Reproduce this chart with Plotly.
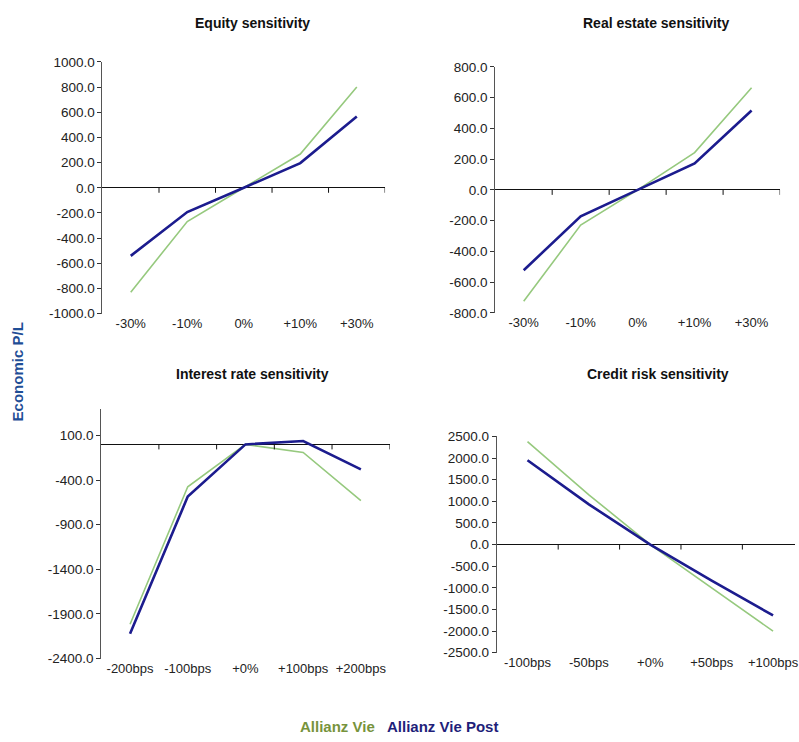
import plotly.graph_objects as go

# Scenario labels
pct_cats = ["-30%", "-10%", "0%", "+10%", "+30%"]
rate_cats = ["-200bps", "-100bps", "+0%", "+100bps", "+200bps"]
credit_cats = ["-100bps", "-50bps", "+0%", "+50bps", "+100bps"]

# Economic P/L per scenario
equity_vie = [-829, -268, 0, 268, 800]
equity_post = [-541, -193, 0, 196, 567]
realestate_vie = [-724, -229, 0, 242, 664]
realestate_post = [-522, -172, 0, 172, 516]
rate_vie = [-2016, -475, 0, -90, -629]
rate_post = [-2123, -585, 0, 38, -280]
credit_vie = [2379, 1150, 0, -1000, -2003]
credit_post = [1949, 929, 0, -832, -1640]

# Y-axis tick values
equity_ticks = [-1000, -800, -600, -400, -200, 0, 200, 400, 600, 800, 1000]
realestate_ticks = [-800, -600, -400, -200, 0, 200, 400, 600, 800]
rate_ticks = [-2400, -1900, -1400, -900, -400, 100]
credit_ticks = [-2500, -2000, -1500, -1000, -500, 0, 500, 1000, 1500, 2000, 2500]

series_names = ["Allianz Vie", "Allianz Vie Post"]
GREEN = "#96C97E"
NAVY = "#1C1C8E"
LEGEND_GREEN = "#77933C"
LEGEND_NAVY = "#1F1F7A"
FONT = "Liberation Sans, Arial"

W, H = 799, 742


def px_x(a, b):
    return [a / W, b / W]


def px_y(top, bottom):
    return [1 - bottom / H, 1 - top / H]


panels = [
    dict(title="Equity sensitivity", cats=pct_cats, vie=equity_vie, post=equity_post,
         ticks=equity_ticks, yrange=[-1000, 1000], xdom=px_x(103, 387), ydom=px_y(56, 313),
         xrange=[-0.5, 4.5], title_xy=(254, 16)),
    dict(title="Real estate sensitivity", cats=pct_cats, vie=realestate_vie, post=realestate_post,
         ticks=realestate_ticks, yrange=[-800, 800], xdom=px_x(497.7, 784), ydom=px_y(61, 312.3),
         xrange=[-0.5, 4.5], title_xy=(660, 16)),
    dict(title="Interest rate sensitivity", cats=rate_cats, vie=rate_vie, post=rate_post,
         ticks=rate_ticks, yrange=[-2400, 400], xdom=px_x(101.7, 391.7), ydom=px_y(410, 665),
         xrange=[-0.5, 4.5], title_xy=(254, 375)),
    dict(title="Credit risk sensitivity", cats=credit_cats, vie=credit_vie, post=credit_post,
         ticks=credit_ticks, yrange=[-2500, 2500], xdom=px_x(499.3, 799), ydom=px_y(438.3, 659),
         xrange=[-0.5, -0.5 + 5 * (799 - 499.3) / 308.5], title_xy=(661, 375)),
]

fig = go.Figure()
annotations = []
shapes = []
layout_axes = {}

for i, p in enumerate(panels, start=1):
    xa = "x" if i == 1 else f"x{i}"
    ya = "y" if i == 1 else f"y{i}"
    fig.add_trace(go.Scatter(x=p["cats"], y=p["vie"], mode="lines", name=series_names[0],
                             line=dict(color=GREEN, width=1.6), xaxis=xa, yaxis=ya,
                             showlegend=False))
    fig.add_trace(go.Scatter(x=p["cats"], y=p["post"], mode="lines", name=series_names[1],
                             line=dict(color=NAVY, width=2.6), xaxis=xa, yaxis=ya,
                             showlegend=False))
    xkey = "xaxis" if i == 1 else f"xaxis{i}"
    ykey = "yaxis" if i == 1 else f"yaxis{i}"
    layout_axes[xkey] = dict(
        domain=p["xdom"], anchor=ya, type="category", range=p["xrange"],
        showline=False, showgrid=False, zeroline=False, ticks="",
        tickfont=dict(family=FONT, size=13, color="#222"),
        fixedrange=True,
    )
    layout_axes[ykey] = dict(
        domain=p["ydom"], anchor=xa, range=p["yrange"],
        tickvals=p["ticks"], ticktext=[f"{v:.1f}" for v in p["ticks"]],
        showline=True, linecolor="#555", linewidth=1,
        ticks="outside", ticklen=4, tickcolor="#333", tickwidth=1,
        showgrid=False, zeroline=True, zerolinecolor="#111", zerolinewidth=1,
        tickfont=dict(family=FONT, size=13.5, color="#222"),
        fixedrange=True,
    )
    # category-boundary tick marks hanging from the zero line
    for k in range(len(p["cats"])):
        shapes.append(dict(type="line", xref=xa, yref=ya, ysizemode="pixel", yanchor=0,
                           x0=k + 0.5, x1=k + 0.5, y0=0, y1=-5,
                           line=dict(color="#111", width=1)))
    tx, ty = p["title_xy"]
    annotations.append(dict(text=f"<b>{p['title']}</b>", x=tx / W, y=1 - ty / H,
                            xref="paper", yref="paper", showarrow=False,
                            xanchor="center", yanchor="middle",
                            font=dict(family=FONT, size=14, color="#111")))

annotations.append(dict(text="<b>Economic P/L</b>", x=18 / W, y=1 - 372 / H,
                        xref="paper", yref="paper", showarrow=False, textangle=-90,
                        xanchor="center", yanchor="middle",
                        font=dict(family=FONT, size=15, color="#1F4E96")))
annotations.append(dict(text=f"<b>{series_names[0]}</b>", x=339.5 / W, y=1 - 734 / H,
                        xref="paper", yref="paper", showarrow=False,
                        xanchor="center", yanchor="middle",
                        font=dict(family=FONT, size=15, color=LEGEND_GREEN)))
annotations.append(dict(text=f"<b>{series_names[1]}</b>", x=445 / W, y=1 - 734 / H,
                        xref="paper", yref="paper", showarrow=False,
                        xanchor="center", yanchor="middle",
                        font=dict(family=FONT, size=15, color=LEGEND_NAVY)))

fig.update_layout(
    width=W, height=H, margin=dict(l=0, r=0, t=0, b=0),
    paper_bgcolor="white", plot_bgcolor="white",
    annotations=annotations, shapes=shapes, showlegend=False,
    **layout_axes,
)

fig.write_html("out.html", config={"displayModeBar": False})
